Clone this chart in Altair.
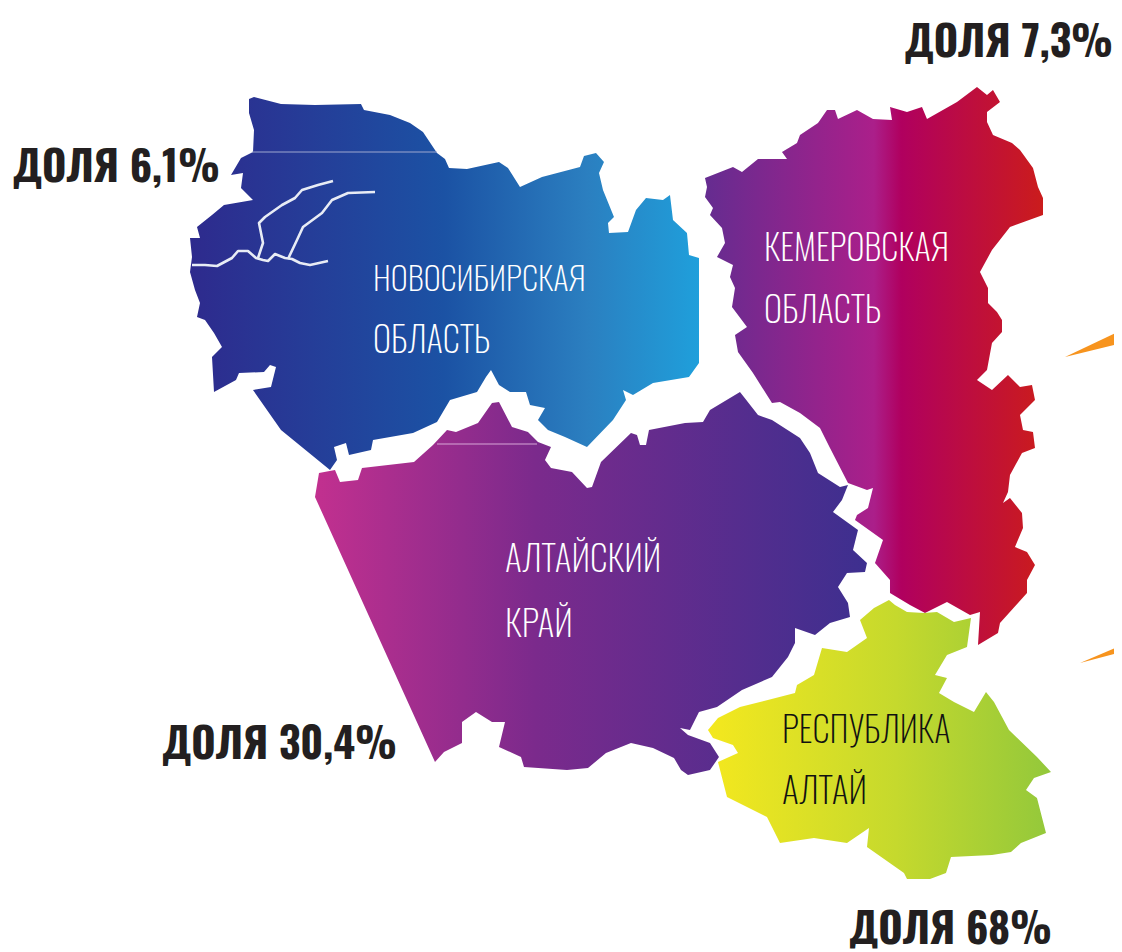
import altair as alt

novosib = [(249,99),(254,97),(281,104),(315,105),(361,104),(364,110),(390,115),(410,123),(423,132),(437,153),(445,159),(449,168),(467,169),(499,162),(508,168),(520,187),(542,177),(580,167),(584,156),(596,153),(604,162),(599,173),(603,190),(614,217),(608,223),(609,233),(628,232),(636,210),(646,198),(663,200),(670,195),(673,220),(687,233),(689,255),(699,258),(699,363),(689,377),(653,383),(633,395),(623,390),(626,400),(613,420),(587,447),(565,437),(548,430),(538,420),(545,408),(530,405),(526,392),(510,392),(499,385),(491,370),(486,377),(477,392),(450,400),(437,422),(413,433),(373,440),(371,450),(349,455),(346,443),(334,447),(337,460),(330,470),(281,430),(253,390),(271,387),(276,367),(270,365),(264,372),(239,373),(236,380),(214,392),(212,357),(222,347),(214,333),(205,320),(197,317),(200,303),(195,290),(190,272),(192,257),(190,238),(200,238),(197,227),(212,215),(224,205),(253,200),(241,188),(243,173),(231,175),(241,158),(253,152),(254,130),(249,113)]
altai_krai = [(319,473),(335,470),(340,482),(358,480),(362,468),(414,462),(433,445),(447,430),(456,432),(478,423),(492,403),(499,402),(512,427),(528,432),(538,442),(551,447),(545,460),(551,468),(572,472),(587,488),(592,487),(601,462),(631,433),(637,435),(640,445),(646,445),(649,430),(685,423),(703,422),(710,410),(740,392),(758,415),(772,420),(800,438),(810,453),(818,473),(840,487),(848,485),(842,500),(833,512),(858,530),(853,550),(867,563),(865,572),(847,573),(838,587),(848,603),(850,617),(830,623),(815,635),(795,628),(795,643),(788,657),(772,677),(742,690),(717,707),(699,712),(690,730),(680,728),(688,735),(710,743),(719,757),(710,770),(688,775),(681,770),(674,758),(653,748),(631,743),(606,753),(588,768),(567,770),(524,767),(521,757),(499,747),(505,722),(492,722),(476,712),(462,722),(462,743),(444,752),(435,762),(315,497),(317,485)]
kemerovo = [(705,178),(733,167),(742,172),(758,159),(787,159),(782,152),(797,143),(800,135),(818,123),(827,110),(835,110),(838,119),(857,110),(873,119),(892,120),(890,107),(907,112),(922,107),(927,119),(957,102),(977,87),(987,95),(993,90),(1000,102),(987,112),(987,122),(993,135),(1012,143),(1020,150),(1033,168),(1038,187),(1043,198),(1043,215),(1010,227),(992,250),(980,272),(988,288),(988,303),(997,312),(1002,320),(1002,332),(992,343),(987,370),(977,380),(992,390),(1008,375),(1020,387),(1032,385),(1035,400),(1020,415),(1023,430),(1033,432),(1035,448),(1022,453),(1010,475),(1008,492),(1003,503),(1010,498),(1022,513),(1023,528),(1015,547),(1027,552),(1035,565),(1027,580),(1027,593),(1000,623),(998,633),(978,645),(980,612),(970,615),(947,602),(925,613),(910,605),(890,593),(890,580),(875,563),(883,540),(855,520),(857,515),(868,508),(873,488),(867,490),(848,483),(830,448),(820,428),(800,413),(780,402),(772,403),(753,373),(738,352),(735,335),(747,327),(732,307),(735,288),(730,277),(733,265),(717,257),(725,243),(722,228),(710,215),(713,208),(705,197),(707,187)]
altai_rep = [(708,730),(718,718),(740,707),(795,693),(797,685),(814,675),(822,648),(847,652),(867,638),(860,620),(874,608),(889,600),(895,605),(907,612),(924,613),(937,612),(954,622),(971,618),(967,647),(947,655),(935,675),(947,678),(939,693),(954,702),(974,712),(986,692),(994,702),(1009,730),(1037,757),(1051,772),(1034,778),(1026,790),(1037,798),(1046,833),(1021,843),(1011,852),(992,855),(951,857),(946,873),(930,879),(907,879),(904,873),(867,847),(869,828),(847,843),(814,838),(780,843),(767,817),(727,797),(718,762),(738,753),(733,745),(713,738)]
orange_a = [(1065,357),(1122,330),(1122,343)]
orange_b = [(1080,663),(1122,645),(1122,652)]
river_main = [(192,265),(205,265),(217,266),(232,258),(238,251),(248,251),(256,258),(263,260),(268,261),(275,254),(285,258),(292,259),(300,263),(310,265),(328,261)]
river_a = [(258,258),(263,243),(259,223),(265,217),(282,205),(295,198),(302,190),(318,185),(333,181)]
river_b = [(288,259),(297,240),(303,227),(322,213),(332,200),(348,193),(375,192)]
seam_a = [(252,152),(437,152)]
seam_b = [(437,444),(537,444)]

stops_novosib = [(0,"#2e2a8d"),(0.5,"#1b52a4"),(0.78,"#2b7fc0"),(1,"#1f9fdb")]
stops_krai = [(0,"#c2308f"),(0.4,"#7b2a8c"),(1,"#3d2f8f")]
stops_kem = [(0,"#652c90"),(0.5,"#ab1f8a"),(0.58,"#b0005f"),(1,"#cb1c1c")]
stops_rep = [(0,"#f4e81e"),(0.55,"#c5d92d"),(1,"#93c83b")]

share_labels = ["ДОЛЯ 7,3%","ДОЛЯ 6,1%","ДОЛЯ 30,4%","ДОЛЯ 68%"]
share_x = [1113,220,397,1052]
share_y = [57,182,759,944]
name_labels = ["НОВОСИБИРСКАЯ","ОБЛАСТЬ","КЕМЕРОВСКАЯ","ОБЛАСТЬ","АЛТАЙСКИЙ","КРАЙ","РЕСПУБЛИКА","АЛТАЙ"]
name_x = [373,373,764,764,505,505,782,782]
name_y = [291,353,261,323,572,637,743,804]
name_size = [33,35,35,35,36,36,35,36]
name_col = ["white"]*6+["#111111"]*2

def poly(pts):
    ring = [list(p) for p in pts]+[list(pts[0])]
    return alt.InlineData(values=[{"type":"Feature","properties":{},"geometry":{"type":"Polygon","coordinates":[ring]}}])
def line(pts):
    return alt.InlineData(values=[{"type":"Feature","properties":{},"geometry":{"type":"LineString","coordinates":[list(p) for p in pts]}}])
def grad(stops):
    return alt.Gradient(gradient="linear",x1=0,x2=1,y1=0,y2=0,stops=[alt.GradientStop(offset=o,color=c) for o,c in stops])

layers = []
for pts,st in [(novosib,stops_novosib),(altai_krai,stops_krai),(kemerovo,stops_kem),(altai_rep,stops_rep)]:
    layers.append(alt.Chart(poly(pts)).mark_geoshape(fill=grad(st),strokeWidth=0))
for pts in (orange_a,orange_b):
    layers.append(alt.Chart(poly(pts)).mark_geoshape(fill="#f7941e",strokeWidth=0))
for pts in (river_main,river_a,river_b):
    layers.append(alt.Chart(line(pts)).mark_geoshape(filled=False,stroke="#e8ecf5",strokeWidth=2.6,strokeJoin="round"))
layers.append(alt.Chart(line(seam_a)).mark_geoshape(filled=False,stroke="#9fa8d0",strokeWidth=1))
layers.append(alt.Chart(line(seam_b)).mark_geoshape(filled=False,stroke="#d8a8d8",strokeWidth=1))

share = alt.Data(values=[{"t":t,"x":x,"y":y} for t,x,y in zip(share_labels,share_x,share_y)])
names = alt.Data(values=[{"t":t,"x":x,"y":y,"c":c,"s":s} for t,x,y,c,s in zip(name_labels,name_x,name_y,name_col,name_size)])
layers.append(alt.Chart(share).mark_text(font="Oswald",fontWeight=700,fontSize=42,align="right",baseline="alphabetic",color="#231f20").encode(longitude="x:Q",latitude="y:Q",text="t:N"))
layers.append(alt.Chart(names).mark_text(font="Oswald",fontWeight=200,align="left",baseline="alphabetic").encode(longitude="x:Q",latitude="y:Q",text="t:N",size=alt.Size("s:Q",scale=None,legend=None),color=alt.Color("c:N",scale=None)))

chart = alt.layer(*layers).project(type="identity",scale=1.00723,translate=[-8.06,-11.47]).properties(width=1114,height=944,padding=0,autosize=alt.AutoSizeParams(type="none")).configure_view(stroke=None)
chart.save("out.html",embed_options={"renderer":"svg","actions":False})
